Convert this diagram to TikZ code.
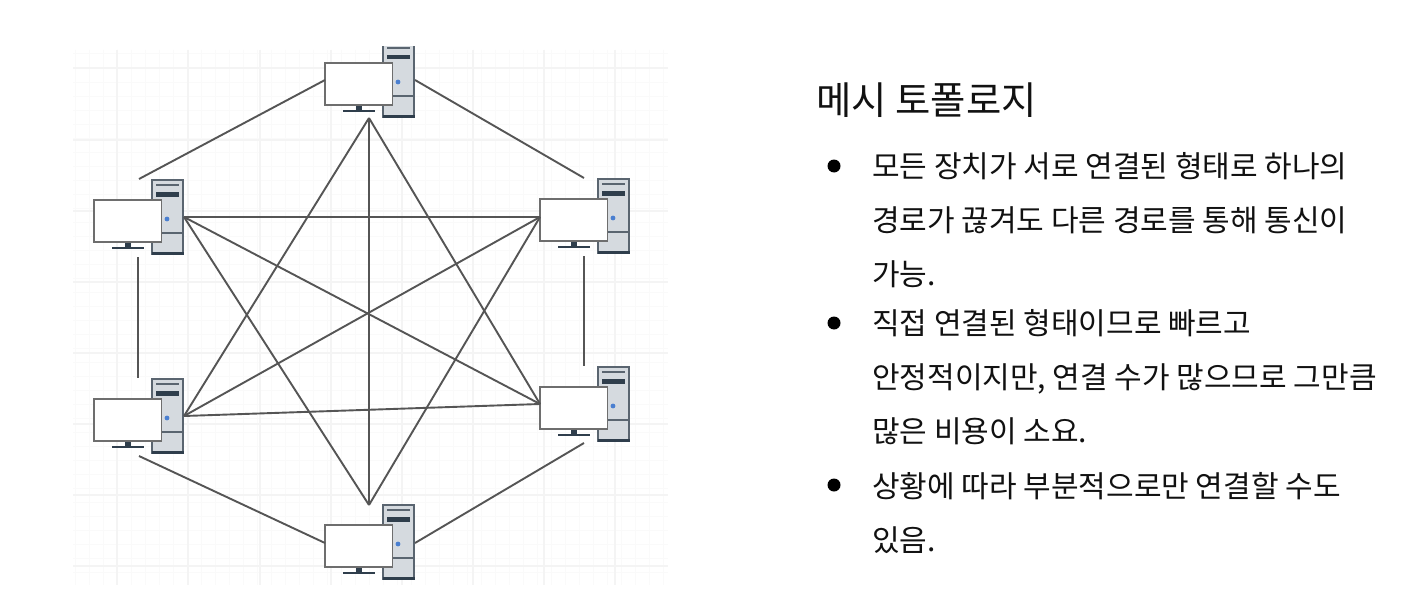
\documentclass[tikz,border=0pt]{standalone}
\usepackage{fontspec}
\setmainfont{Noto Sans CJK KR}
\definecolor{edgeC}{HTML}{555555}
\definecolor{bodyC}{HTML}{D5DADF}
\definecolor{frameC}{HTML}{5A6570}
\definecolor{monC}{HTML}{6E6E6E}
\definecolor{darkC}{HTML}{2F3E4C}
\definecolor{dotC}{HTML}{4A7FD0}
\definecolor{gridC}{HTML}{F4F4F4}
\definecolor{minorC}{HTML}{FAFAFA}
\definecolor{txtC}{HTML}{111111}
\tikzset{
  link/.style={draw=edgeC,line width=1.9pt},
  title/.style={anchor=base west,inner sep=0,font=\fontsize{38.4}{38.4}\selectfont,text=txtC},
  bodytext/.style={anchor=base west,inner sep=0,font=\fontsize{30}{30}\selectfont,text=txtC},
  bull/.style={circle,fill=black,inner sep=0,minimum size=13pt},
  computer/.pic={
    \fill[bodyC] (58,-20) rectangle (89,54);
    \draw[frameC,line width=1.7pt] (58,-20) rectangle (89,54);
    \fill[darkC] (57.5,51.5) rectangle (89.5,55);
    \draw[frameC,line width=1.3pt] (58,33) -- (89,33);
    \draw[frameC,line width=1.7pt] (62,-15) -- (85,-15);
    \fill[darkC] (62,-8) rectangle (85,-3.5);
    \fill[dotC] (73,19) circle (2.4);
    \fill[darkC] (31,42) rectangle (37,48);
    \draw[darkC,line width=1.7pt] (18,48) -- (50,48);
    \draw[monC,fill=white,line width=1.7pt] (0,0) rectangle (67.5,42);
  }
}
\begin{document}
\begin{tikzpicture}[x=1pt,y=-1pt]
\useasboundingbox (0,0) rectangle (1404,602);
\fill[white] (0,0) rectangle (1404,602);
% faint grid
\foreach \x in {75,89,...,668}
  \draw[minorC,line width=1pt] (\x,50) -- (\x,585);
\foreach \y in {54,68,...,585}
  \draw[minorC,line width=1pt] (73,\y) -- (668,\y);
\foreach \x in {117,188,260,331,402,473,544,615}
  \draw[gridC,line width=2pt] (\x,50) -- (\x,585);
\foreach \y in {68,140,211,282,353,424,495,566}
  \draw[gridC,line width=2pt] (73,\y) -- (668,\y);
% computers
\begin{scope}
\clip (300,47) rectangle (430,130);
\pic at (325,63) {computer};
\end{scope}
\pic at (94,200) {computer};
\pic at (540,199) {computer};
\pic at (94,399) {computer};
\pic at (540,387) {computer};
\pic at (325,525) {computer};
% connector ends
\coordinate (A) at (369,118);
\coordinate (B) at (184,217);
\coordinate (C) at (540,217);
\coordinate (D) at (184,416);
\coordinate (E) at (540,404);
\coordinate (F) at (369,505);
\coordinate (topL) at (325,80);
\coordinate (topR) at (415,80);
\coordinate (ltU) at (139,179);
\coordinate (rtU) at (584,178);
\coordinate (ltD) at (138,257);
\coordinate (lbU) at (138,378);
\coordinate (rtD) at (584,256);
\coordinate (rbU) at (584,366);
\coordinate (lbD) at (139,456);
\coordinate (rbD) at (584,443);
\coordinate (botL) at (325,543);
\coordinate (botR) at (415,543);
\draw[link] (topL) -- (ltU);
\draw[link] (topR) -- (rtU);
\draw[link] (ltD) -- (lbU);
\draw[link] (rtD) -- (rbU);
\draw[link] (lbD) -- (botL);
\draw[link] (rbD) -- (botR);
\draw[link] (A) -- (F);
\draw[link] (A) -- (D);
\draw[link] (A) -- (E);
\draw[link] (F) -- (B);
\draw[link] (F) -- (C);
\draw[link] (B) -- (C);
\draw[link] (B) -- (E);
\draw[link] (C) -- (D);
\draw[link] (D) -- (E);
% text
\node[title] (t0) at (816,114) {메시 토폴로지};
\node[bull] (b1) at (834,166) {};
\node[bodytext] (l1) at (872,177) {모든 장치가 서로 연결된 형태로 하나의};
\node[bodytext] (l2) at (872,231) {경로가 끊겨도 다른 경로를 통해 통신이};
\node[bodytext] (l3) at (872,285) {가능.};
\node[bull] (b2) at (834,323) {};
\node[bodytext] (l4) at (872,334) {직접 연결된 형태이므로 빠르고};
\node[bodytext] (l5) at (872,388) {안정적이지만, 연결 수가 많으므로 그만큼};
\node[bodytext] (l6) at (872,442) {많은 비용이 소요.};
\node[bull] (b3) at (834,485) {};
\node[bodytext] (l7) at (872,497) {상황에 따라 부분적으로만 연결할 수도};
\node[bodytext] (l8) at (872,551) {있음.};
\end{tikzpicture}
\end{document}
